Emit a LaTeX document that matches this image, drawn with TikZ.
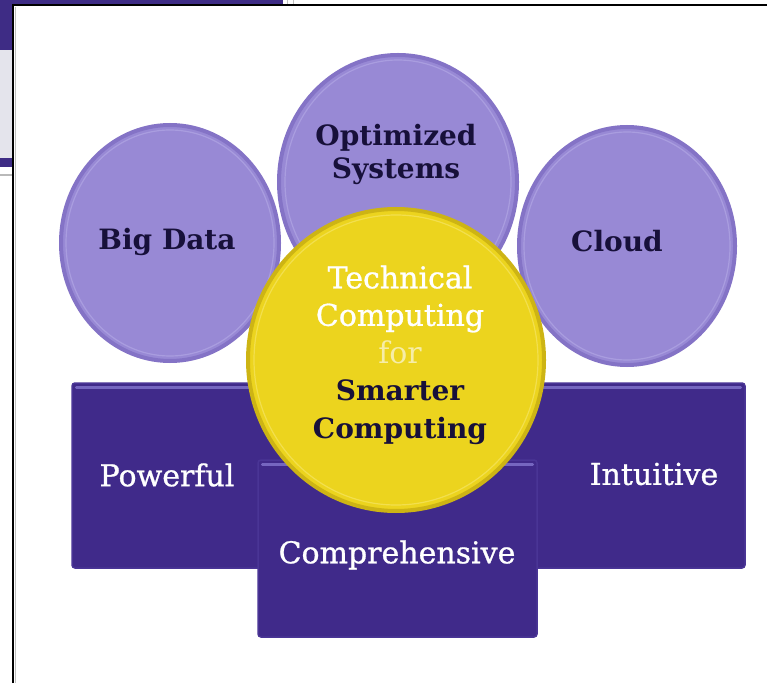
\documentclass[tikz,border=0pt]{standalone}
\usepackage{fontspec}
\setmainfont{DejaVu Serif}
\newfontfamily\medserif[FakeBold=0.9]{DejaVu Serif}
\usetikzlibrary{shapes.geometric}
\definecolor{boxc}{HTML}{402A8A}
\definecolor{boxedge}{HTML}{4A3596}
\definecolor{boxhl}{HTML}{7566C0}
\definecolor{circfill}{HTML}{9889D5}
\definecolor{circrim}{HTML}{8473C6}
\definecolor{circhl}{HTML}{AEA2E2}
\definecolor{yel}{HTML}{ECD41E}
\definecolor{yelrim}{HTML}{CDB414}
\definecolor{yelhl}{HTML}{F4E25A}
\definecolor{darktext}{HTML}{17103A}
\definecolor{forc}{HTML}{F6EDA8}
\definecolor{topband}{HTML}{3E2C85}
\definecolor{greyarea}{HTML}{E4E4EC}
\begin{document}
\begin{tikzpicture}[x=1pt,y=1pt,
  bubble/.style={ellipse, inner sep=0pt, fill=circfill, draw=circrim, line width=4pt},
  blk/.style={rectangle, rounded corners=3pt, inner sep=0pt, fill=boxc, draw=boxedge, line width=1.5pt},
  core/.style={ellipse, inner sep=0pt, fill=yel, draw=yelrim, line width=4pt},
  darklbl/.style={font=\fontsize{28}{33}\selectfont\bfseries, text=darktext, align=center, inner sep=0pt},
  lightlbl/.style={font=\medserif\fontsize{30}{36}\selectfont, text=white, align=center, inner sep=0pt},
  boxhighlight/.style={boxhl, line width=2.5pt, line cap=round},
  ringhl/.style={circhl, line width=1.2pt, opacity=0.8}]
\useasboundingbox (0,0) rectangle (767,683);
\fill[white] (0,0) rectangle (767,683);
% screenshot edges
\fill[topband] (0,678) rectangle (283,683);
\fill[topband] (0,633) rectangle (13,683);
\fill[greyarea] (0,525) rectangle (13,633);
\fill[topband] (0,516) rectangle (13,525);
\fill[gray!55] (0,507) rectangle (13,509);
\draw[gray!50, line width=1pt] (287,678) -- (287,683) (293,678) -- (293,683);
\draw[black, line width=2pt] (13,0) -- (13,678) -- (767,678);
\draw[gray!50, line width=1pt] (15,0) -- (15,676);
% circles
\node[bubble, minimum width=218pt, minimum height=236pt] (bigdata) at (170,440) {};
\draw[ringhl] (bigdata.center) ellipse [x radius=104, y radius=113];
\node[bubble, minimum width=216pt, minimum height=238pt] (cloud) at (627,437) {};
\draw[ringhl] (cloud.center) ellipse [x radius=103, y radius=114];
\node[bubble, minimum width=238pt, minimum height=254pt] (optimized) at (398,501) {};
\draw[ringhl] (optimized.center) ellipse [x radius=113, y radius=122];
% boxes
\node[blk, minimum width=248pt, minimum height=185pt] (powerfulbox) at (196,207.5) {};
\draw[boxhighlight] ([xshift=5pt,yshift=-5pt]powerfulbox.north west) -- ([xshift=-5pt,yshift=-5pt]powerfulbox.north east);
\node[blk, minimum width=265pt, minimum height=185pt] (intuitivebox) at (612.5,207.5) {};
\draw[boxhighlight] ([xshift=5pt,yshift=-5pt]intuitivebox.north west) -- ([xshift=-5pt,yshift=-5pt]intuitivebox.north east);
\node[blk, minimum width=279pt, minimum height=177pt] (compbox) at (397.5,134.5) {};
\draw[boxhighlight] ([xshift=5pt,yshift=-5pt]compbox.north west) -- ([xshift=-5pt,yshift=-5pt]compbox.north east);
% central circle
\node[core, minimum width=296pt, minimum height=302pt] (tc) at (396,323) {};
\draw[yelhl, line width=1.2pt, opacity=0.8] (tc.center) ellipse [x radius=142, y radius=145];
% labels
\node[darklbl] (lbigdata) at (167,441) {Big Data};
\node[darklbl] (lcloud) at (617,442) {Cloud};
\node[darklbl] (lopt) at (396,529) {Optimized\\Systems};
\node[lightlbl] (lpow) at (167,208) {Powerful};
\node[lightlbl] (lint) at (654,209) {Intuitive};
\node[lightlbl] (lcomp) at (397,128) {Comprehensive};
\node[align=center, inner sep=0pt, font=\fontsize{30}{37.5}\selectfont] (ltc) at (400,328)
  {{\color{white}\medserif Technical}\\
   {\color{white}\medserif Computing}\\
   {\color{forc}for}\\
   {\color{darktext}\bfseries\fontsize{28}{37.5}\selectfont Smarter}\\
   {\color{darktext}\bfseries\fontsize{28}{37.5}\selectfont Computing}};
\end{tikzpicture}
\end{document}
